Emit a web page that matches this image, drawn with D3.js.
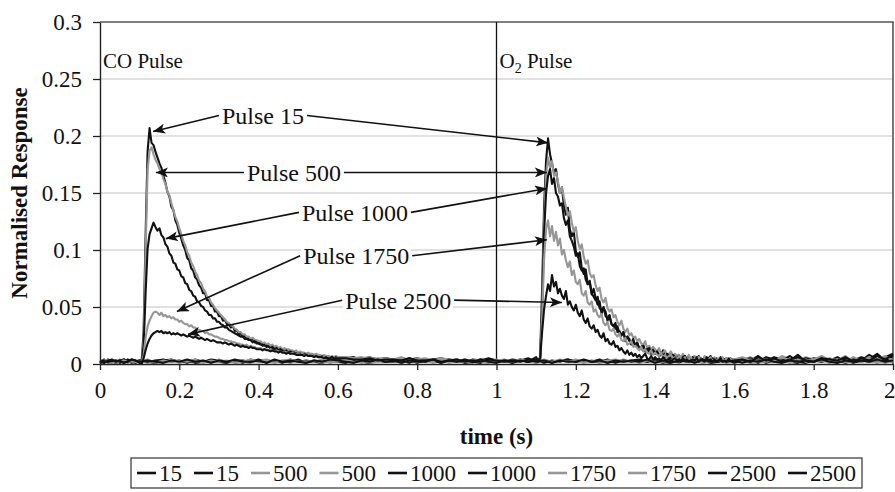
<!DOCTYPE html>
<html><head><meta charset="utf-8">
<script src="https://cdn.jsdelivr.net/npm/d3@7"></script>
<style>
html,body{margin:0;padding:0;background:#fff;}
svg{display:block;font-family:"Liberation Serif","Times New Roman",serif;}
</style></head>
<body><svg id="chart" width="895" height="492"></svg>
<script>
// Normalised responses, listed in units of 0.001.
// CO traces are sampled at: 0-0.10 s every 0.01 s, 0.105-0.600 s every 0.005 s, 0.62-2.00 s every 0.02 s.
const co15 = [
  3,1,4,2,3,1,4,2,3,2,2,
  2,28,112,186,207,194,192,186,181, 176,172,165,159,151,147,138,135,126,122,
  115,110,104,100,93,91,84,82,76,74, 69,67,62,62,56,56,51,51,46,46,
  42,42,38,39,35,35,32,33,29,30, 26,27,24,25,22,23,21,22,19,20,
  18,19,16,18,15,16,14,15,12,14, 12,13,11,12,10,11,10,11,9,10,
  9,10,8,9,8,9,7,8,7,8, 6,7,6,7,5,7,6,5,6,6,5,
  5,6,4,6,4,5,3,5,4,5, 3,4,5,3,4,2,4,3,5,3, 2,4,3,2,4,3,1,3,4,2,
  3,2,4,1,3,2,3,4,2,3, 1,3,2,4,2,3,1,2,4,3, 2,3,1,4,2,3,2,1,3,2, 4,2,3,1,3,2,4,2,3,2
];
const co500 = [
  2,3,1,3,2,4,1,3,2,3,1,
  1,22,98,170,187,190,184,179,176, 171,168,162,158,151,148,141,135,129,125,
  119,114,108,104,98,95,89,86,81,78, 73,71,66,64,59,58,54,52,49,47,
  45,43,41,39,37,36,34,33,31,30, 28,28,26,26,24,24,22,23,21,21,
  20,20,18,19,17,18,16,17,15,16, 14,15,13,14,13,13,12,12,11,12,
  10,11,10,10,9,10,9,9,8,9, 8,8,7,8,7,7,6,7,6,7,6,
  6,5,6,4,5,5,4,6,3,5, 4,3,5,4,3,4,2,4,3,3, 4,2,3,3,1,4,2,3,2,4,
  2,3,1,3,2,4,2,2,3,1, 3,2,4,2,3,1,3,2,2,4, 3,1,2,3,2,4,1,3,2,3, 2,3,1,4,2,2,3,1,3,2
];
const co1000 = [
  1,4,2,3,1,3,2,4,2,1,3,
  1,16,62,101,114,119,124,120,117, 119,113,111,105,103,97,95,89,88,83,
  82,77,76,71,70,65,64,60,59,55, 54,51,50,47,46,43,43,40,40,37,
  37,35,34,32,32,30,29,28,27,26, 25,24,24,22,22,21,21,19,20,18,
  18,17,17,16,16,15,14,15,13,14, 12,13,12,11,12,10,11,10,10,9,
  9,9,8,9,8,8,7,8,7,7, 7,6,7,6,6,5,6,6,5,6,5,
  5,4,5,4,3,5,4,3,5,3, 4,3,2,4,3,3,2,4,3,2, 3,2,4,2,3,1,3,2,4,2,
  3,2,2,4,1,3,2,3,2,4, 2,1,3,2,3,4,2,2,3,1, 3,2,4,1,3,2,3,2,1,3, 2,4,2,3,1,3,2,3,2,4
];
const co1750 = [
  3,2,4,1,3,2,3,1,4,2,2,
  1,8,23,33,38,42,45,46,45, 43,45,42,43,41,42,40,41,39,39,
  37,38,36,35,35,33,34,32,32,30, 30,29,29,27,28,26,26,25,24,24,
  23,22,22,21,21,20,20,19,19,18, 18,17,17,16,17,15,16,15,15,14,
  14,14,13,13,13,12,13,12,11,12, 11,11,10,11,10,10,9,10,9,9,
  9,8,9,8,8,8,7,8,7,7, 7,7,6,7,6,6,6,5,6,5,6,
  6,5,5,6,4,5,4,5,3,4, 5,3,4,3,4,2,3,4,2,3, 3,2,4,3,1,3,2,4,2,3,
  1,3,2,3,4,2,3,1,3,2, 2,3,1,4,2,3,2,3,1,3, 2,4,2,2,3,1,3,2,4,2, 3,1,3,2,2,4,2,3,1,3
];
const co2500 = [
  2,1,3,4,2,3,1,2,4,3,1,
  0,5,12,18,22,25,27,28,29, 28,29,27,28,27,28,26,27,26,27,
  26,25,26,25,24,25,24,23,24,23, 22,23,22,21,22,21,20,21,20,19,
  19,19,18,19,18,17,18,17,16,17, 16,15,16,15,15,14,15,14,14,13,
  13,13,12,13,12,12,11,12,11,11, 10,11,10,10,9,10,9,9,9,8,
  8,8,8,7,8,7,7,7,6,7, 6,6,6,5,6,5,5,6,5,5,5,
  5,4,4,5,3,4,4,3,5,3, 3,4,2,3,4,2,3,2,4,3, 2,3,2,4,2,3,1,3,2,2,
  4,2,3,1,3,2,3,2,4,1, 3,2,2,3,1,4,2,3,2,3, 1,3,2,4,2,1,3,2,3,2, 4,2,1,3,2,3,2,4,2,3
];

// O2 traces are sampled at: 0-1.10 s every 0.02 s, 1.105-1.600 s every 0.005 s, 1.62-2.00 s every 0.02 s.
const o2_15 = [
  2,3,1,4,2,3,2,1,3,4, 2,3,1,2,4,3,2,3,1,4, 2,2,3,1,4,2,3,2,1,3, 4,2,3,2,1,3,2,4,2,3, 1,3,2,4,2,3,1,2,3,4, 2,3,1,3,5,2,
  3,6,65,138,178,198,184,176,168, 171,158,150,155,139,131,137,118,112,116,
  99,94,98,84,79,83,70,72,61,66, 58,52,55,44,49,46,38,42,35,33,
  36,28,29,25,28,20,24,22,17,20, 16,19,13,15,17,11,14,10,9,13,
  9,11,7,8,12,6,8,5,9,6, 7,5,8,4,5,7,4,6,3,6,
  5,3,7,4,3,6,4,5,7,3, 4,5,3,6,2,4,5,3,5,2,4,
  5,3,7,2,6,4,3,8,2,5,4,3,6,2,5,3,8,4,6,9
];
const o2_500 = [
  3,1,2,4,2,3,1,3,2,4, 1,3,2,3,1,4,2,3,2,1, 3,4,2,3,1,3,2,2,4,1, 3,2,3,1,4,2,2,3,1,3, 2,4,1,3,2,3,2,1,4,2, 3,2,2,4,3,2,
  2,5,55,125,165,181,172,178,165, 168,160,150,155,146,138,130,134,124,116,
  120,108,101,105,94,88,91,80,76,78, 69,64,67,57,54,58,49,46,48,41,
  43,37,34,38,31,28,31,25,27,23, 24,20,22,18,17,20,14,16,13,15,
  13,11,14,9,10,12,8,9,11,7, 9,7,8,5,9,6,5,8,4,6,
  7,4,6,5,3,7,5,4,6,3, 6,4,3,5,6,3,4,2,5,3,4,
  4,6,3,5,2,7,4,3,6,4,2,5,3,7,2,4,6,3,5,4
];
const o2_1000 = [
  1,3,2,4,1,3,2,3,4,2, 3,1,4,2,3,2,1,3,3,2, 4,1,3,2,2,4,1,3,2,3, 2,1,3,4,2,3,2,2,3,1, 4,2,3,1,3,2,4,2,1,3, 2,3,1,3,2,6,
  3,4,48,115,150,165,171,158,163, 150,147,139,141,128,122,126,112,108,103,
  95,97,86,82,84,74,70,73,62,59, 56,59,49,47,50,42,40,43,35,34,
  31,33,27,25,28,22,24,20,19,22, 16,18,14,13,16,11,13,14,10,11,
  9,11,7,10,8,6,9,7,5,8, 6,5,7,4,6,7,4,5,3,6,
  4,6,3,5,4,3,6,4,3,5, 3,4,2,5,3,4,2,5,3,4,3,
  3,5,2,6,4,3,7,2,5,3,6,4,2,5,3,6,4,9,3,7
];
const o2_1750 = [
  2,4,1,3,2,2,4,1,3,2, 3,2,4,1,3,2,3,1,2,4, 2,3,1,3,4,2,2,3,1,3, 2,4,2,3,1,2,3,4,1,3, 2,3,2,4,1,3,2,3,2,1, 4,2,3,2,3,2,
  2,4,40,92,118,126,112,121,108, 116,104,110,96,100,91,85,90,78,82,
  72,70,74,62,60,64,54,52,55,46, 48,43,41,44,36,34,37,30,29,31,
  26,24,27,21,20,23,17,18,20,15, 16,14,12,15,11,13,10,9,12,8,
  10,8,7,10,6,8,5,7,8,5, 6,4,7,5,4,6,3,5,6,4,
  5,3,6,4,3,5,2,4,5,3, 4,3,5,2,4,3,5,2,4,3,4,
  6,3,5,4,2,6,3,5,2,4,7,3,4,2,6,3,5,4,7,3
];
const o2_2500 = [
  3,2,3,1,4,2,3,2,1,3, 2,4,2,3,1,3,2,4,2,2, 3,1,4,2,3,2,1,3,2,4, 3,2,1,3,2,4,2,3,1,3, 2,2,4,1,3,2,3,2,4,2, 1,3,2,3,2,3,
  2,5,28,48,60,70,64,78,68, 72,62,66,60,57,64,52,55,50,47,
  52,45,42,47,39,36,40,33,31,34, 28,30,25,23,27,20,22,18,17,20,
  15,16,12,14,11,9,12,8,10,7, 9,6,8,5,7,9,5,4,7,4,
  6,4,5,3,6,4,3,5,2,4, 5,3,4,2,5,3,4,2,3,4,
  3,5,2,4,3,2,5,3,4,2, 4,2,3,5,2,3,2,4,3,2,3,
  4,2,6,3,5,2,4,6,3,2,5,4,3,6,2,5,3,7,4,8
];

const legendLabels = ["15", "15", "500", "500", "1000", "1000", "1750", "1750", "2500", "2500"];
const xTicks = [0, 0.2, 0.4, 0.6, 0.8, 1, 1.2, 1.4, 1.6, 1.8, 2];
const xTickLabels = ["0", "0.2", "0.4", "0.6", "0.8", "1", "1.2", "1.4", "1.6", "1.8", "2"];
const yTicks = [0, 0.05, 0.1, 0.15, 0.2, 0.25, 0.3];
const yTickLabels = ["0", "0.05", "0.1", "0.15", "0.2", "0.25", "0.3"];

// Callouts: label centre, then arrow tips on the CO and O2 traces (time s, response)
const calloutLabels = ["Pulse 15", "Pulse 500", "Pulse 1000", "Pulse 1750", "Pulse 2500"];
const calloutAt = [[0.411, 0.218], [0.489, 0.168], [0.643, 0.133], [0.646, 0.095], [0.752, 0.056]];
const calloutCoTip = [[0.134, 0.204], [0.141, 0.168], [0.166, 0.110], [0.194, 0.046], [0.222, 0.026]];
const calloutO2Tip = [[1.130, 0.194], [1.127, 0.168], [1.127, 0.154], [1.127, 0.109], [1.165, 0.054]];

// sampling instants of the two trace families
const coTime = [].concat(
  d3.range(11).map(i => i * 0.01),
  d3.range(100).map(i => 0.105 + i * 0.005),
  d3.range(70).map(i => 0.62 + i * 0.02));
const o2Time = [].concat(
  d3.range(56).map(i => i * 0.02),
  d3.range(100).map(i => 1.105 + i * 0.005),
  d3.range(20).map(i => 1.62 + i * 0.02));

const BLACK = "#111", GREY = "#969696";
const series = [
  {label: legendLabels[0], time: coTime, vals: co15, color: BLACK},
  {label: legendLabels[1], time: o2Time, vals: o2_15, color: BLACK},
  {label: legendLabels[2], time: coTime, vals: co500, color: GREY},
  {label: legendLabels[3], time: o2Time, vals: o2_500, color: GREY},
  {label: legendLabels[4], time: coTime, vals: co1000, color: BLACK},
  {label: legendLabels[5], time: o2Time, vals: o2_1000, color: BLACK},
  {label: legendLabels[6], time: coTime, vals: co1750, color: GREY},
  {label: legendLabels[7], time: o2Time, vals: o2_1750, color: GREY},
  {label: legendLabels[8], time: coTime, vals: co2500, color: BLACK},
  {label: legendLabels[9], time: o2Time, vals: o2_2500, color: BLACK}
];

const svg = d3.select("#chart");
const plot = {left: 100, right: 893, top: 22, bottom: 364};
const x = d3.scaleLinear().domain([0, 2]).range([plot.left, plot.right]);
const y = d3.scaleLinear().domain([0, 0.3]).range([plot.bottom, plot.top]);

// gridlines
svg.append("g").selectAll("line").data(yTicks.filter(d => d > 0 && d < 0.3)).join("line")
  .attr("x1", plot.left).attr("x2", plot.right)
  .attr("y1", d => y(d)).attr("y2", d => y(d))
  .attr("stroke", "#c4c4c4").attr("stroke-width", 1.2);

// frame (top and right)
svg.append("path")
  .attr("d", `M${plot.left},${y(0.3)}H${plot.right}V${plot.bottom}`)
  .attr("fill", "none").attr("stroke", "#555").attr("stroke-width", 1.6);

// divider between the CO and O2 pulses
svg.append("line")
  .attr("x1", x(1)).attr("x2", x(1)).attr("y1", y(0.3)).attr("y2", y(0))
  .attr("stroke", "#111").attr("stroke-width", 1.3);

// traces
const line = d3.line().x(d => x(d[0])).y(d => y(d[1]));
svg.append("g").selectAll("path").data(series).join("path")
  .attr("d", s => {
    const n = Math.min(s.time.length, s.vals.length);
    return line(d3.range(n).map(i => [s.time[i], s.vals[i] / 1000]));
  })
  .attr("fill", "none")
  .attr("stroke", s => s.color)
  .attr("stroke-width", 2.1)
  .attr("stroke-linejoin", "round");

// axes
const yAxis = svg.append("g").attr("transform", `translate(${plot.left},0)`)
  .call(d3.axisLeft(y).tickValues(yTicks).tickFormat((d, i) => yTickLabels[i])
    .tickSize(7).tickSizeOuter(0).tickPadding(11));
const xAxis = svg.append("g").attr("transform", `translate(0,${plot.bottom})`)
  .call(d3.axisBottom(x).tickValues(xTicks).tickFormat((d, i) => xTickLabels[i])
    .tickSize(6).tickSizeOuter(0).tickPadding(12));
[yAxis, xAxis].forEach(g => {
  g.attr("font-family", null);
  g.select(".domain").attr("stroke", "#222").attr("stroke-width", 1.4);
  g.selectAll(".tick line").attr("stroke", "#222").attr("stroke-width", 1.3);
  g.selectAll(".tick text").attr("font-size", 23).attr("fill", "#111");
});
// the last time label sits against the right edge of the figure
xAxis.selectAll(".tick text").filter((d, i) => i === xTicks.length - 1)
  .attr("text-anchor", "end").attr("x", 895 - x(2));

// axis titles
svg.append("text")
  .attr("transform", `translate(27,${(plot.top + plot.bottom) / 2}) rotate(-90)`)
  .attr("text-anchor", "middle").attr("font-size", 23).attr("font-weight", "bold").attr("fill", "#111")
  .text("Normalised Response");
svg.append("text")
  .attr("x", (plot.left + plot.right) / 2).attr("y", 444)
  .attr("text-anchor", "middle").attr("font-size", 23).attr("font-weight", "bold").attr("fill", "#111")
  .text("time (s)");

// pulse headings
svg.append("text").attr("x", x(0) + 3).attr("y", 68).attr("font-size", 21).attr("fill", "#111").text("CO Pulse");
const o2t = svg.append("text").attr("x", x(1) + 3).attr("y", 68).attr("font-size", 21).attr("fill", "#111");
o2t.append("tspan").text("O");
o2t.append("tspan").attr("font-size", 14).attr("dy", 5).text("2");
o2t.append("tspan").attr("dy", -5).text(" Pulse");

// callouts
const defs = svg.append("defs");
defs.append("marker").attr("id", "head")
  .attr("viewBox", "0 0 12 10").attr("refX", 12).attr("refY", 5)
  .attr("markerWidth", 12).attr("markerHeight", 10).attr("markerUnits", "userSpaceOnUse")
  .attr("orient", "auto")
  .append("path").attr("d", "M0,0 L12,5 L0,10 L3,5 Z").attr("fill", "#111");

const callouts = svg.append("g");
calloutLabels.forEach((lab, i) => {
  const cx = x(calloutAt[i][0]), cy = y(calloutAt[i][1]);
  const g = callouts.append("g");
  const t = g.append("text").attr("x", cx).attr("y", cy).attr("dy", "0.35em")
    .attr("text-anchor", "middle").attr("font-size", 24).attr("fill", "#111").text(lab);
  const bb = t.node().getBBox();
  g.insert("rect", "text").attr("x", bb.x - 2).attr("y", bb.y + 2).attr("width", bb.width + 4).attr("height", bb.height - 4)
    .attr("fill", "#fff");
  g.append("line")
    .attr("x1", bb.x - 3).attr("y1", cy).attr("x2", x(calloutCoTip[i][0])).attr("y2", y(calloutCoTip[i][1]))
    .attr("stroke", "#111").attr("stroke-width", 1.6).attr("marker-end", "url(#head)");
  g.append("line")
    .attr("x1", bb.x + bb.width + 3).attr("y1", cy).attr("x2", x(calloutO2Tip[i][0])).attr("y2", y(calloutO2Tip[i][1]))
    .attr("stroke", "#111").attr("stroke-width", 1.6).attr("marker-end", "url(#head)");
});

// legend
const lg = svg.append("g");
const box = {x: 131, y: 458, w: 731, h: 30};
lg.append("rect").attr("x", box.x).attr("y", box.y).attr("width", box.w).attr("height", box.h)
  .attr("fill", "#fff").attr("stroke", "#333").attr("stroke-width", 1.2);
const swatch = 19, swGap = 3, pad = 6;
const items = series.map(s => {
  const t = lg.append("text").attr("font-size", 23).attr("fill", "#111").attr("y", box.y + box.h / 2).attr("dy", "0.35em").text(s.label);
  return {s, t, w: t.node().getComputedTextLength()};
});
const used = d3.sum(items, d => swatch + swGap + d.w);
const gap = (box.w - 2 * pad - used) / (items.length - 1);
let cur = box.x + pad;
items.forEach(d => {
  lg.append("line").attr("x1", cur).attr("x2", cur + swatch)
    .attr("y1", box.y + box.h / 2).attr("y2", box.y + box.h / 2)
    .attr("stroke", d.s.color).attr("stroke-width", 2.6);
  d.t.attr("x", cur + swatch + swGap);
  cur += swatch + swGap + d.w + gap;
});
</script>
</body></html>
